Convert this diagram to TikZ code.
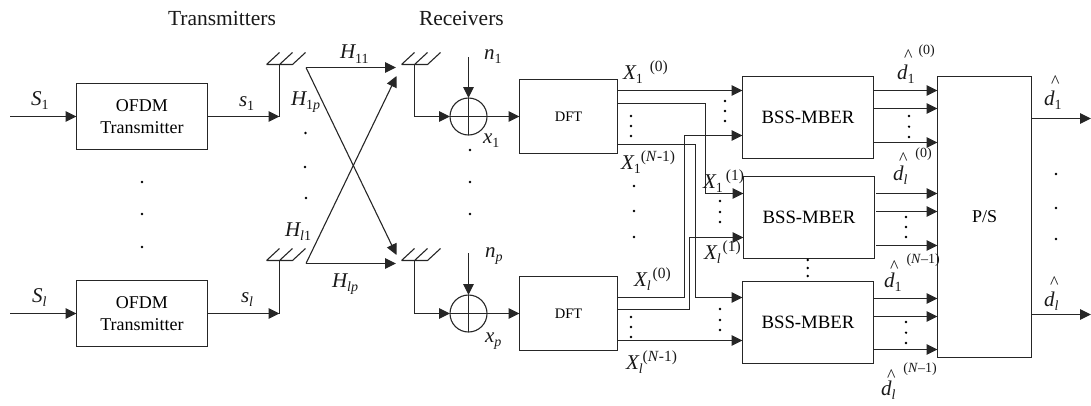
\documentclass[tikz,border=0pt]{standalone}
\usepackage{fontspec}
\setmainfont{Liberation Serif}
\usetikzlibrary{arrows.meta}
\newcommand{\szm}{\fontsize{21}{24}\selectfont}
\newcommand{\szs}{\fontsize{14}{16}\selectfont}
\newcommand{\szu}{\fontsize{15.5}{18}\selectfont}
\newcommand{\lsub}[1]{\raisebox{-4.5pt}{\szs #1}}
\newcommand{\isym}[2]{{\szm\itshape #1}\lsub{#2}}
\newcommand{\XX}[3]{{\szm\itshape X}\lsub{#1}\kern#3\raisebox{8pt}{\szu #2}}
\newcommand{\dhatt}[4]{\rlap{\kern#3\raisebox{#4}{\fontsize{18}{20}\selectfont\^{}}}{\szm\itshape d}\lsub{#1}#2}
\newcommand{\supr}[3]{\rlap{\kern#2\raisebox{#3}{\fontsize{14}{15}\selectfont #1}}}
\tikzset{
  x=1pt,y=-1pt,
  every node/.style={inner sep=0pt,outer sep=0pt},
  wire/.style={draw=black!85,line width=1.1pt},
  arr/.style={wire,-{Triangle[length=11pt,width=10.5pt]}},
  blockbox/.style={draw=black!85,line width=1.1pt,fill=white},
  lbl/.style={anchor=base west,text=black!90},
  dotmark/.style={circle,fill=black,minimum size=2.6pt},
}
\begin{document}
\begin{tikzpicture}
\useasboundingbox (0,0) rectangle (1091,405);
% boxes
\node[blockbox,minimum width=131pt,minimum height=66pt,align=center,font=\fontsize{18}{22}\selectfont] (tx1) at (142,116.5) {OFDM\\Transmitter};
\node[blockbox,minimum width=131pt,minimum height=66pt,align=center,font=\fontsize{18}{22}\selectfont] (tx2) at (142,313.5) {OFDM\\Transmitter};
\node[circle,draw=black!85,line width=1.1pt,minimum size=37pt] (s1) at (468.5,116.5) {};
\node[circle,draw=black!85,line width=1.1pt,minimum size=37pt] (s2) at (468.5,313.5) {};
\draw[wire] (s1.north)--(s1.south) (s1.west)--(s1.east) (s2.north)--(s2.south) (s2.west)--(s2.east);
\node[blockbox,minimum width=98pt,minimum height=74pt,font=\fontsize{14.5}{16}\selectfont] (dft1) at (568.5,116.5) {DFT};
\node[blockbox,minimum width=98pt,minimum height=74pt,font=\fontsize{14.5}{16}\selectfont] (dft2) at (568.5,313.5) {DFT};
\node[blockbox,minimum width=131pt,minimum height=82pt,font=\fontsize{18.8}{22}\selectfont] (b1) at (808,117.5) {BSS-MBER};
\node[blockbox,minimum width=131pt,minimum height=82pt,font=\fontsize{18.8}{22}\selectfont] (b2) at (809,217.5) {BSS-MBER};
\node[blockbox,minimum width=131pt,minimum height=82pt,font=\fontsize{18.8}{22}\selectfont] (b3) at (808,322.5) {BSS-MBER};
\node[blockbox,minimum width=94pt,minimum height=281pt,font=\fontsize{18}{22}\selectfont] (ps) at (984.5,217) {P/S};
% free ends and levels
\coordinate (in1) at (10,116.5); \coordinate (in2) at (10,313.5);
\coordinate (ta1) at (279.5,64.5); \coordinate (ta2) at (279.5,260.5);
\coordinate (tj1) at (279.5,116.5); \coordinate (tj2) at (279.5,313.5);
\coordinate (ra1) at (414.5,64.5); \coordinate (ra2) at (414.5,260.5);
\coordinate (rj1) at (414.5,116.5); \coordinate (rj2) at (414.5,313.5);
\coordinate (no1) at (468.5,57); \coordinate (no2) at (468.5,253);
\coordinate (tu) at (306,67.5); \coordinate (tl) at (306,263.5);
\coordinate (ru) at (396,67.5); \coordinate (rl) at (396,263.5);
\coordinate (ru2) at (396.5,76); \coordinate (rl2) at (396.5,255);
\coordinate (y1) at (0,90.5); \coordinate (y2) at (0,103.5); \coordinate (y3) at (0,144.5);
\coordinate (y4) at (0,297.5); \coordinate (y5) at (0,309.5); \coordinate (y6) at (0,340.5);
\coordinate (t2) at (0,193.5); \coordinate (t3) at (0,297.5); \coordinate (t4) at (0,135.5); \coordinate (t5) at (0,237.5);
\coordinate (v2) at (705.5,0); \coordinate (v3) at (695.5,0); \coordinate (v4) at (684.5,0); \coordinate (v5) at (689.5,0);
\coordinate (o1) at (1091,118.5); \coordinate (o2) at (1091,314.5);
% antennas
\foreach \a in {ta1,ta2,ra1,ra2}{
  \draw[wire] ([xshift=-13pt]\a) -- ([xshift=13pt]\a)
    ([xshift=-13pt]\a) -- ([xshift=0pt,yshift=12pt]\a)
    (\a) -- ([xshift=13pt,yshift=12pt]\a)
    ([xshift=13pt]\a) -- ([xshift=26pt,yshift=12pt]\a);
}
% transmit side
\draw[arr] (in1) -- (tx1.west);
\draw[arr] (in2) -- (tx2.west);
\draw[arr] (tx1.east) -- (tj1);
\draw[arr] (tx2.east) -- (tj2);
\draw[wire] (ta1) -- (tj1);
\draw[wire] (ta2) -- (tj2);
% channel
\draw[arr] (tu) -- (ru);
\draw[arr] (tu) -- (rl2);
\draw[arr] (tl) -- (ru2);
\draw[arr] (tl) -- (rl);
% receive side
\draw[wire] (ra1) -- (rj1);
\draw[wire] (ra2) -- (rj2);
\draw[arr] (rj1) -- (s1.west);
\draw[arr] (rj2) -- (s2.west);
\draw[arr] (no1) -- (s1.north);
\draw[arr] (no2) -- (s2.north);
\draw[arr] (s1.east) -- (dft1.west);
\draw[arr] (s2.east) -- (dft2.west);
% DFT to BSS
\draw[arr] (dft1.east|-y1) -- (b1.west|-y1);
\draw[arr] (dft1.east|-y2) -- (v2|-y2) -- (v2|-t2) -- (b2.west|-t2);
\draw[arr] (dft1.east|-y3) -- (v3|-y3) -- (v3|-t3) -- (b3.west|-t3);
\draw[arr] (dft2.east|-y4) -- (v4|-y4) -- (v4|-t4) -- (b1.west|-t4);
\draw[arr] (dft2.east|-y5) -- (v5|-y5) -- (v5|-t5) -- (b2.west|-t5);
\draw[arr] (dft2.east|-y6) -- (b3.west|-y6);
% BSS to P/S
\foreach \b/\ya/\yb/\yc/\xs in {b1/90.5/108.5/142.5/0,b2/193.5/211.5/245.5/1.5,b3/298.5/316.5/349.5/0}{
  \coordinate (la) at (0,\ya); \coordinate (lb) at (0,\yb); \coordinate (lc) at (0,\yc);
  \draw[arr] ([xshift=\xs pt]\b.east|-la) -- (ps.west|-la);
  \draw[arr] ([xshift=\xs pt]\b.east|-lb) -- (ps.west|-lb);
  \draw[arr] ([xshift=\xs pt]\b.east|-lc) -- (ps.west|-lc);
}
\draw[arr] (ps.east|-o1) -- (o1);
\draw[arr] (ps.east|-o2) -- (o2);
% dots
\foreach \p [count=\i] in {(142,182),(142,214),(142,247),(305.5,133),(305,167),(306,198),
 (470,150),(470,182),(470,214),(725,101),(725,111),(725,121),(631,116),(631,126),(631,136),
 (634,186),(634,211),(634,237),(720,201),(720,212),(720,222),(631,317),(631,327),(631,337),
 (720,309),(720,320),(720,330),(807.7,260),(807.7,268),(807.7,276),(909,116),(909,126.7),(909,137),
 (906,217),(906,227),(906,237),(906,322),(906,332.7),(906,343),(1056,174),(1056,208),(1056,239)}
  \node[dotmark] (dot\i) at \p {};
% labels
\node[lbl,font=\fontsize{21.5}{24}\selectfont] (ltx) at (168,25) {Transmitters};
\node[lbl,font=\fontsize{21.5}{24}\selectfont] (lrx) at (419,25) {Receivers};
\node[lbl] (lS1) at (31,105) {\isym{S}{1}};
\node[lbl] (lS2) at (32,302) {\isym{S}{\textit{l}}};
\node[lbl] (ls1) at (239,106) {\isym{s}{1}};
\node[lbl] (ls2) at (241,302) {\isym{s}{\textit{l}}};
\node[lbl] (lH11) at (340,58.5) {\isym{H}{11}};
\node[lbl] (lH1p) at (291,105) {\isym{H}{1\textit{p}}};
\node[lbl] (lHl1) at (285,236) {\isym{H}{\textit{l}1}};
\node[lbl] (lHlp) at (332,287) {\isym{H}{\textit{lp}}};
\node[lbl] (ln1) at (484,59) {\isym{n}{1}};
\node[lbl] (ln2) at (485,257) {\isym{n}{\textit{p}}};
\node[lbl] (lx1) at (483,143) {\isym{x}{1}};
\node[lbl] (lx2) at (485,342) {\isym{x}{\textit{p}}};
\node[lbl] (X1) at (623,79) {\XX{1}{(0)}{7pt}};
\node[lbl] (X2) at (621,169) {\XX{1}{(\textit{N}-1)}{0pt}};
\node[lbl] (X3) at (703,188) {\XX{1}{(1)}{3pt}};
\node[lbl] (X4) at (704,259) {\XX{\textit{l}}{(1)}{2pt}};
\node[lbl] (X5) at (634,286) {\XX{\textit{l}}{(0)}{2pt}};
\node[lbl] (X6) at (626,369) {\XX{\textit{l}}{(\textit{N}-1)}{0pt}};
\node[lbl] (d1) at (897,79) {\dhatt{1}{\supr{(0)}{4pt}{25pt}}{7pt}{18pt}};
\node[lbl] (d2) at (893,180) {\dhatt{\textit{l}}{\supr{(0)}{8pt}{23pt}}{6pt}{16pt}};
\node[lbl] (d3) at (884,287) {\dhatt{1}{\supr{(\textit{N}–1)}{5pt}{24pt}}{6pt}{15pt}};
\node[lbl] (d4) at (881,395) {\dhatt{\textit{l}}{\supr{(\textit{N}–1)}{8pt}{23pt}}{6pt}{14pt}};
\node[lbl] (d5) at (1044,105) {\dhatt{1}{}{7pt}{18pt}};
\node[lbl] (d6) at (1044,306) {\dhatt{\textit{l}}{}{6pt}{18pt}};
\end{tikzpicture}
\end{document}
